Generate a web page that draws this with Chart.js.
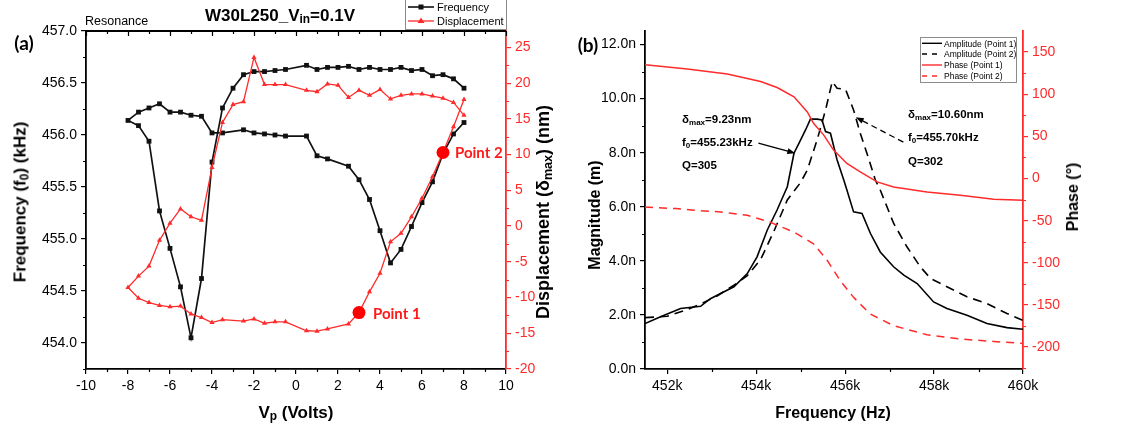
<!DOCTYPE html>
<html>
<head>
<meta charset="utf-8">
<script src="https://cdn.jsdelivr.net/npm/chart.js@4.4.1/dist/chart.umd.min.js"></script>
<style>
  html, body { margin:0; padding:0; background:#fff; }
  #wrap { position:relative; width:1138px; height:429px; overflow:hidden; font-family:"Liberation Sans", Arial, sans-serif; color:#000; }
  canvas { position:absolute; top:0; }
  .lbl { position:absolute; white-space:nowrap; line-height:1; }
  .c { transform:translate(-50%,-50%); }
  .v { transform:translateY(-50%); }
  .rot { transform:translate(-50%,-50%) rotate(-90deg); }
  .b { font-weight:bold; }
  .cal { font-family:Lato, "Open Sans", sans-serif; font-weight:bold; }
  sub { font-size:70%; vertical-align:-0.25em; line-height:0; }
  .box { position:absolute; border:1px solid #8c8c8c; background:#fff; }
  svg { position:absolute; overflow:visible; }
</style>
</head>
<body>
<div id="wrap">
  <canvas id="ca" width="569" height="429" style="left:0;width:569px;height:429px"></canvas>
  <canvas id="cb" width="569" height="429" style="left:569px;width:569px;height:429px"></canvas>

  <!-- panel (a) texts -->
  <div class="lbl c b" style="left:280px;top:15px;font-size:17px">W30L250_V<sub>in</sub>=0.1V</div>
  <div class="lbl v" style="left:85px;top:21px;font-size:12.5px">Resonance</div>
  <div class="lbl c cal" style="left:24px;top:42px;font-size:19px">(a)</div>
  <div class="lbl rot b" style="left:20px;top:202px;font-size:17px">Frequency (f<sub>0</sub>) (kHz)</div>
  <div class="lbl rot b" style="left:543px;top:212px;font-size:18px">Displacement (δ<sub>max</sub>) (nm)</div>
  <div class="lbl c b" style="left:296px;top:412px;font-size:17px">V<sub>p</sub> (Volts)</div>
  <div class="lbl v cal" style="left:373px;top:313px;font-size:15px;color:#ff1a1a">Point 1</div>
  <div class="lbl v cal" style="left:455px;top:152px;font-size:15px;color:#ff1a1a">Point 2</div>

  <!-- legend (a) -->
  <div class="box" style="left:405px;top:-2px;width:100px;height:30px"></div>
  <svg style="left:406px;top:0" width="30" height="28">
    <line x1="2" y1="7" x2="28" y2="7" stroke="#111" stroke-width="1.6"/>
    <rect x="12.5" y="4.5" width="5" height="5" fill="#111"/>
    <line x1="2" y1="21" x2="28" y2="21" stroke="#ff2b2b" stroke-width="1.3"/>
    <polygon points="15,17.5 18.5,23 11.5,23" fill="#ff2b2b"/>
  </svg>
  <div class="lbl v" style="left:437px;top:7px;font-size:11px">Frequency</div>
  <div class="lbl v" style="left:437px;top:21px;font-size:11px">Displacement</div>

  <!-- panel (b) texts -->
  <div class="lbl c cal" style="left:588px;top:44px;font-size:19px">(b)</div>
  <div class="lbl rot b" style="left:595px;top:215px;font-size:16px">Magnitude (m)</div>
  <div class="lbl rot b" style="left:1073px;top:197px;font-size:16px">Phase (°)</div>
  <div class="lbl c b" style="left:833px;top:413px;font-size:16px">Frequency (Hz)</div>

  <div class="lbl v b" style="left:682px;top:120px;font-size:11.5px">δ<sub>max</sub>=9.23nm</div>
  <div class="lbl v b" style="left:682px;top:143px;font-size:11.5px">f<sub>0</sub>=455.23kHz</div>
  <div class="lbl v b" style="left:682px;top:166px;font-size:11.5px">Q=305</div>
  <div class="lbl v b" style="left:908px;top:115px;font-size:11.5px">δ<sub>max</sub>=10.60nm</div>
  <div class="lbl v b" style="left:908px;top:138px;font-size:11.5px">f<sub>0</sub>=455.70kHz</div>
  <div class="lbl v b" style="left:908px;top:162px;font-size:11.5px">Q=302</div>

  <!-- legend (b) -->
  <div class="box" style="left:920px;top:37px;width:95px;height:44px"></div>
  <svg style="left:921px;top:37px" width="22" height="44">
    <line x1="1" y1="6.3" x2="21" y2="6.3" stroke="#000" stroke-width="1.4"/>
    <line x1="1" y1="17" x2="21" y2="17" stroke="#000" stroke-width="1.4" stroke-dasharray="5,5"/>
    <line x1="1" y1="28" x2="21" y2="28" stroke="#ff2a2a" stroke-width="1.4"/>
    <line x1="1" y1="39" x2="21" y2="39" stroke="#ff2a2a" stroke-width="1.4" stroke-dasharray="5,5"/>
  </svg>
  <div class="lbl v" style="left:944px;top:43.5px;font-size:8.5px">Amplitude (Point 1)</div>
  <div class="lbl v" style="left:944px;top:54.3px;font-size:8.5px">Amplitude (Point 2)</div>
  <div class="lbl v" style="left:944px;top:65.2px;font-size:8.5px">Phase (Point 1)</div>
  <div class="lbl v" style="left:944px;top:76px;font-size:8.5px">Phase (Point 2)</div>
</div>

<script>
// ---------- panel (a): hysteresis sweep 8 V -> -8 V -> 8 V ----------
const vp = [8, 7.5, 7, 6.5, 6, 5.5, 5, 4.5, 4, 3.5, 3, 2.5, 2, 1.5, 1, 0.5,
            -0.5, -1, -1.5, -2, -2.5, -3, -3.5, -4, -4.5, -5, -5.5, -6, -6.5, -7, -7.5, -8,
            -7.5, -7, -6.5, -6, -5.5, -5, -4.5, -4, -3.5,
            -2.5, -2, -1.5, -1, -0.5,
            0.5, 1, 1.5,
            2.5, 3, 3.5, 4, 4.5, 5, 5.5, 6, 6.5, 7, 7.5, 8];
const freqKHz = [456.45, 456.54, 456.58, 456.57, 456.63, 456.62, 456.65, 456.63, 456.63, 456.65, 456.63, 456.66, 456.65, 456.65, 456.63, 456.67,
                 456.63, 456.62, 456.61, 456.61, 456.58, 456.45, 456.26, 455.74, 454.62, 454.05, 454.54, 454.91, 455.27, 455.94, 456.09, 456.14,
                 456.22, 456.26, 456.30, 456.22, 456.22, 456.19, 456.18, 456.02, 456.02,
                 456.05, 456.02, 456.01, 456.00, 455.99,
                 455.99, 455.80, 455.77,
                 455.70, 455.57, 455.38, 455.08, 454.77, 454.90, 455.12, 455.35, 455.55, 455.82, 456.01, 456.12];
const dispNm = [15.5, 17.3, 17.9, 18.2, 18.5, 18.5, 18.3, 17.8, 19.1, 18.3, 19.0, 18.0, 19.7, 19.9, 18.8, 19.0,
                19.8, 19.8, 19.8, 23.6, 17.4, 17.0, 14.5, 8.2, 0.8, 1.3, 2.4, 0.4, -2.0, -5.6, -7.0, -8.6,
                -10.1, -10.7, -11.1, -11.3, -11.2, -12.3, -12.8, -13.5, -13.1,
                -13.3, -13.0, -13.6, -13.4, -13.4,
                -14.65, -14.7, -14.4,
                -13.7, -12.1, -9.2, -6.6, -2.2, -1.0, 1.3, 3.9, 6.9, 10.3, 13.9, 17.7];
const markVp = [3, 7];
const markDisp = [-12.1, 10.3];

const xTicksA = [-10, -8, -6, -4, -2, 0, 2, 4, 6, 8, 10];
const yTicksA = [454.0, 454.5, 455.0, 455.5, 456.0, 456.5, 457.0];
const y1TicksA = [-20, -15, -10, -5, 0, 5, 10, 15, 20, 25];

// ---------- panel (b): frequency response ----------
const fAmp1 = [451500, 451850, 452300, 452750, 452970, 453200, 453500, 453800, 454020, 454250, 454470, 454700, 454850, 455000, 455110, 455220, 455370, 455480,
               455560, 455670, 455820, 455970, 456040, 456190, 456380, 456570, 456790, 457090, 457320, 457620, 457990, 458290, 458740, 459190, 459640, 460000];
const amp1 = [1.68, 1.93, 2.24, 2.32, 2.6, 2.79, 3.04, 3.53, 4.15, 5.14, 5.88, 6.74, 7.98, 8.47, 8.84, 9.24, 9.24, 9.21,
              8.78, 8.72, 7.73, 6.99, 6.62, 5.81, 5.75, 5.01, 4.33, 3.78, 3.47, 3.16, 2.48, 2.24, 1.99, 1.68, 1.53, 1.47];
const fAmp2 = [451500, 452000, 452450, 452810, 453120, 453500, 453800, 454100, 454400, 454700, 455000, 455150, 455370, 455560, 455710, 455820,
               456010, 456190, 456340, 456490, 456680, 456790, 457090, 457390, 457690, 457920, 458290, 458740, 459190, 459640, 460000];
const amp2 = [1.90, 1.95, 2.20, 2.45, 2.70, 3.10, 3.45, 4.05, 5.10, 6.25, 6.90, 7.36, 8.47, 9.58, 10.63, 10.38,
              10.34, 9.58, 8.72, 7.98, 6.99, 6.62, 5.39, 4.52, 3.78, 3.35, 3.04, 2.67, 2.42, 2.05, 1.80];
const fPh1 = [451500, 452450, 453350, 454100, 454470, 454850, 455150, 455290, 455520, 455740, 456040, 456340, 456720, 457090, 457840, 458590, 459340, 460000];
const ph1 = [135, 130, 124, 115, 108, 97, 79, 65.5, 51.5, 33.7, 17.9, 7.9, -4, -10, -16, -20, -24.6, -25.8];
const fPh2 = [451500, 452200, 452600, 453200, 453800, 454300, 454850, 455290, 455600, 455890, 456190, 456560, 457090, 457840, 458590, 459340, 460000];
const ph2 = [-33.8, -35.7, -37.7, -39.7, -43.7, -51.6, -63.6, -77.4, -97.3, -121, -141, -160.7, -174.6, -185.4, -190.5, -193.3, -195.7];

const xTicksB = [452000, 454000, 456000, 458000, 460000];
const yTicksB = [0, 2, 4, 6, 8, 10, 12];
const y1TicksB = [-200, -150, -100, -50, 0, 50, 100, 150];

// annotation arrows (tail -> head, data space)
const arrowTail = [[454050, 8.35], [457310, 8.39]];
const arrowHead = [[454880, 7.98], [456240, 9.31]];
const arrowDash = [false, true];

const RED = '#ff2a2a';
Chart.defaults.font.family = "'Liberation Sans', Arial, sans-serif";
Chart.defaults.font.size = 14;
Chart.defaults.color = '#000';

const pts = (xs, ys) => xs.map((x, i) => ({ x: x, y: ys[i] }));
const mids = (arr, extra) => {
    const out = [];
    for (let i = 0; i < arr.length - 1; i++) out.push((arr[i] + arr[i + 1]) / 2);
    return out.concat(extra || []);
};

function axis(pos, min, max, majors, fmt, color, size) {
    return {
        type: 'linear', position: pos, min: min, max: max,
        afterBuildTicks: s => { s.ticks = majors.map(v => ({ value: v })); },
        afterFit: s => { if (pos === 'bottom') s.height = size; else s.width = size; },
        ticks: { color: color, padding: 4, autoSkip: false, maxRotation: 0, callback: fmt },
        grid: { drawOnChartArea: false, drawTicks: true, tickLength: 5, color: color, lineWidth: 1.2 },
        border: { display: true, color: color, width: 1.8 }
    };
}

// minor ticks (and optional mirrored top axis) drawn through the scales
function tickPlugin(list, topMirror) {
    return {
        id: 'minorTicks',
        afterDraw(chart) {
            const ctx = chart.ctx, a = chart.chartArea;
            ctx.save();
            list.forEach(m => {
                const s = chart.scales[m.axis];
                ctx.strokeStyle = m.color;
                ctx.lineWidth = 1.2;
                ctx.beginPath();
                m.values.forEach(v => {
                    if (v < s.min || v > s.max) return;
                    const p = Math.round(s.getPixelForValue(v)) + 0.5;
                    if (m.axis === 'x') { ctx.moveTo(p, a.bottom); ctx.lineTo(p, a.bottom + 3); }
                    else if (s.position === 'left') { ctx.moveTo(a.left - 3, p); ctx.lineTo(a.left, p); }
                    else { ctx.moveTo(a.right, p); ctx.lineTo(a.right + 3, p); }
                });
                ctx.stroke();
            });
            if (topMirror) {
                const s = chart.scales.x;
                ctx.strokeStyle = '#000';
                ctx.lineWidth = 1.8;
                ctx.beginPath();
                ctx.moveTo(a.left, a.top); ctx.lineTo(a.right, a.top);
                ctx.stroke();
                ctx.lineWidth = 1.2;
                ctx.beginPath();
                topMirror.major.forEach(v => { const p = Math.round(s.getPixelForValue(v)) + 0.5; ctx.moveTo(p, a.top); ctx.lineTo(p, a.top + 5); });
                topMirror.minor.forEach(v => { const p = Math.round(s.getPixelForValue(v)) + 0.5; ctx.moveTo(p, a.top); ctx.lineTo(p, a.top + 3); });
                ctx.stroke();
            }
            ctx.restore();
        }
    };
}

const arrowPlugin = {
    id: 'arrows',
    afterDatasetsDraw(chart) {
        const ctx = chart.ctx, sx = chart.scales.x, sy = chart.scales.y;
        ctx.save();
        ctx.strokeStyle = '#000';
        ctx.fillStyle = '#000';
        ctx.lineWidth = 1.3;
        arrowTail.forEach((t, i) => {
            const x0 = sx.getPixelForValue(t[0]), y0 = sy.getPixelForValue(t[1]);
            const x1 = sx.getPixelForValue(arrowHead[i][0]), y1 = sy.getPixelForValue(arrowHead[i][1]);
            const ang = Math.atan2(y1 - y0, x1 - x0);
            ctx.setLineDash(arrowDash[i] ? [6, 4] : []);
            ctx.beginPath();
            ctx.moveTo(x0, y0);
            ctx.lineTo(x1 - 6 * Math.cos(ang), y1 - 6 * Math.sin(ang));
            ctx.stroke();
            ctx.setLineDash([]);
            ctx.beginPath();
            ctx.moveTo(x1, y1);
            ctx.lineTo(x1 - 8 * Math.cos(ang) + 3 * Math.sin(ang), y1 - 8 * Math.sin(ang) - 3 * Math.cos(ang));
            ctx.lineTo(x1 - 8 * Math.cos(ang) - 3 * Math.sin(ang), y1 - 8 * Math.sin(ang) + 3 * Math.cos(ang));
            ctx.closePath();
            ctx.fill();
        });
        ctx.restore();
    }
};

const common = {
    responsive: false,
    animation: false,
    events: [],
    layout: { padding: { top: 31, left: 0, right: 0, bottom: 0 } },
    plugins: { legend: { display: false }, tooltip: { enabled: false } }
};

new Chart(document.getElementById('ca'), {
    type: 'line',
    data: {
        datasets: [
            { label: 'Points', data: pts(markVp, markDisp), yAxisID: 'y1', showLine: false, order: 0,
              pointStyle: 'circle', pointRadius: 6.5, backgroundColor: '#ff0000', borderColor: '#ff0000', borderWidth: 0 },
            { label: 'Displacement', data: pts(vp, dispNm), yAxisID: 'y1', order: 1,
              borderColor: RED, backgroundColor: RED, borderWidth: 1.3, pointStyle: 'triangle', pointRadius: 3, pointBorderWidth: 0 },
            { label: 'Frequency', data: pts(vp, freqKHz), yAxisID: 'y', order: 2,
              borderColor: '#111', backgroundColor: '#111', borderWidth: 1.7, pointStyle: 'rect', pointRadius: 3.4, pointBorderWidth: 0 }
        ]
    },
    options: Object.assign({}, common, {
        scales: {
            x: axis('bottom', -10, 10, xTicksA, v => String(v), '#000', 60),
            y: axis('left', 453.75, 457.0, yTicksA, v => v.toFixed(1), '#000', 86),
            y1: axis('right', -20, 27.3, y1TicksA, v => String(v), RED, 63)
        }
    }),
    plugins: [tickPlugin([
        { axis: 'x', values: mids(xTicksA), color: '#000' },
        { axis: 'y', values: mids(yTicksA, [453.75]), color: '#000' },
        { axis: 'y1', values: mids(y1TicksA), color: RED }
    ], { major: xTicksA, minor: mids(xTicksA) })]
});

new Chart(document.getElementById('cb'), {
    type: 'line',
    data: {
        datasets: [
            { label: 'Phase (Point 1)', data: pts(fPh1, ph1), yAxisID: 'y1', order: 0,
              borderColor: RED, borderWidth: 1.5, pointRadius: 0 },
            { label: 'Phase (Point 2)', data: pts(fPh2, ph2), yAxisID: 'y1', order: 1,
              borderColor: RED, borderWidth: 1.5, borderDash: [8, 6], pointRadius: 0 },
            { label: 'Amplitude (Point 1)', data: pts(fAmp1, amp1), yAxisID: 'y', order: 2,
              borderColor: '#000', borderWidth: 1.6, pointRadius: 0 },
            { label: 'Amplitude (Point 2)', data: pts(fAmp2, amp2), yAxisID: 'y', order: 3,
              borderColor: '#000', borderWidth: 1.6, borderDash: [9, 6], pointRadius: 0 }
        ]
    },
    options: Object.assign({}, common, {
        scales: {
            x: axis('bottom', 451500, 460000, xTicksB, v => (v / 1000) + 'k', '#000', 60),
            y: axis('left', 0, 12.5, yTicksB, v => v.toFixed(1) + 'n', '#000', 76),
            y1: axis('right', -226, 175, y1TicksB, v => String(v), RED, 115)
        }
    }),
    plugins: [tickPlugin([
        { axis: 'x', values: mids(xTicksB), color: '#000' },
        { axis: 'y', values: mids(yTicksB), color: '#000' },
        { axis: 'y1', values: mids(y1TicksB, [-225]), color: RED }
    ], null), arrowPlugin]
});
</script>
</body>
</html>
